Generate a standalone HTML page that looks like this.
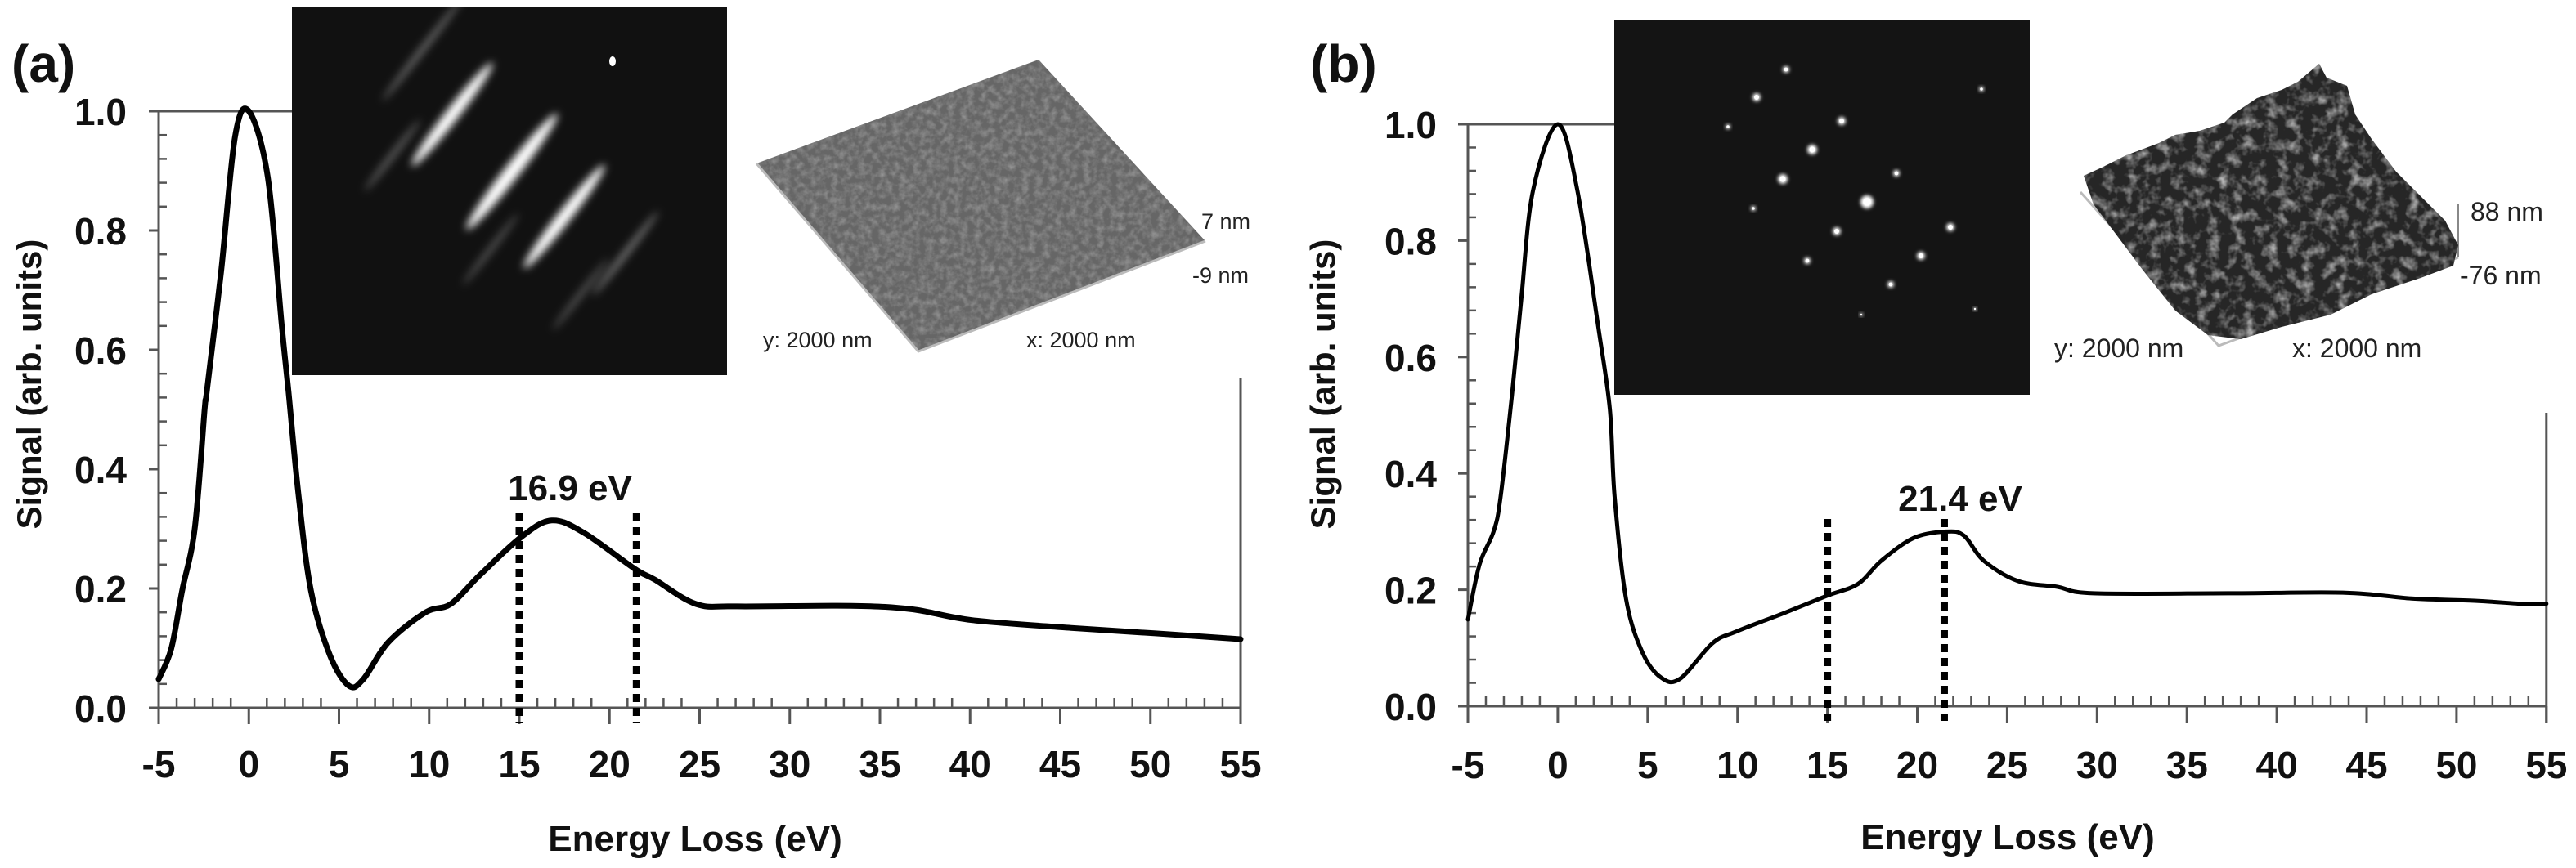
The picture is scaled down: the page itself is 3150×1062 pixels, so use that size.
<!DOCTYPE html>
<html><head><meta charset="utf-8"><style>
html,body{margin:0;padding:0;background:#fff;}
svg{display:block;}
text{font-family:"Liberation Sans",Arial,sans-serif;}
</style></head><body>
<svg id="fig" width="3150" height="1062" viewBox="0 0 3150 1062" xmlns="http://www.w3.org/2000/svg">
<defs>
<filter id="blur6" x="-50%" y="-50%" width="200%" height="200%"><feGaussianBlur stdDeviation="5"/></filter>
<filter id="blur2" x="-50%" y="-50%" width="200%" height="200%"><feGaussianBlur stdDeviation="2"/></filter>
<filter id="noiseA" x="0" y="0" width="100%" height="100%">
<feTurbulence type="fractalNoise" baseFrequency="0.12" numOctaves="3" seed="4"/>
<feColorMatrix type="matrix" values="0 0 0 0 0.32  0 0 0 0 0.32  0 0 0 0 0.32  0 0 0 -1.6 1.0"/>
</filter>
<filter id="noiseB" x="0" y="0" width="100%" height="100%">
<feTurbulence type="fractalNoise" baseFrequency="0.07" numOctaves="3" seed="9"/>
<feColorMatrix type="matrix" values="0 0 0 0 0.5  0 0 0 0 0.5  0 0 0 0 0.5  0 0 0 2.2 -1.0"/>
</filter>
<clipPath id="clipAfmA"><polygon points="925,200 1270,73 1474,295 1123,430"/></clipPath>
<clipPath id="clipAfmB"><polygon points="2548,215 2570,205 2600,190 2640,175 2660,165 2690,160 2720,150 2730,140 2760,120 2790,110 2810,100 2836,78 2845,95 2870,105 2880,140 2900,170 2930,210 2960,240 2990,270 3006,300 3000,325 2960,340 2900,360 2850,385 2790,400 2740,415 2700,410 2660,380 2620,330 2590,290 2560,250"/></clipPath>
</defs>
<rect width="3150" height="1062" fill="#fff"/>

<g>
<rect x="357" y="8" width="532" height="451" fill="#111"/>
<g filter="url(#blur6)" fill="#fff">
<ellipse cx="517" cy="60" rx="80" ry="4" transform="rotate(-52 517 60)" opacity="0.35"/>
<ellipse cx="553" cy="140" rx="80" ry="8" transform="rotate(-52 553 140)"/>
<ellipse cx="626" cy="210" rx="90" ry="9" transform="rotate(-52 626 210)"/>
<ellipse cx="690" cy="265" rx="80" ry="8" transform="rotate(-52 690 265)"/>
<ellipse cx="765" cy="310" rx="65" ry="4" transform="rotate(-52 765 310)" opacity="0.4"/>
<ellipse cx="480" cy="190" rx="55" ry="4" transform="rotate(-52 480 190)" opacity="0.3"/>
<ellipse cx="600" cy="305" rx="55" ry="4" transform="rotate(-52 600 305)" opacity="0.25"/>
<ellipse cx="710" cy="360" rx="55" ry="4" transform="rotate(-52 710 360)" opacity="0.25"/>
</g>
<ellipse cx="749" cy="75" rx="4" ry="6" fill="#fff"/>
</g>
<g>
<polygon points="925,200 1270,73 1474,295 1123,430" fill="#666"/>
<rect x="920" y="70" width="560" height="365" filter="url(#noiseA)" clip-path="url(#clipAfmA)"/>
<polyline points="925,200 1123,430 1474,295" fill="none" stroke="#bbb" stroke-width="3"/>
<text x="1469" y="280" font-size="27" fill="#222">7 nm</text>
<text x="1458" y="346" font-size="27" fill="#222">-9 nm</text>
<text x="933" y="425" font-size="27" fill="#222">y: 2000 nm</text>
<text x="1255" y="425" font-size="27" fill="#222">x: 2000 nm</text>
</g>

<g>
<rect x="1974" y="24" width="508" height="459" fill="#141414"/>
<g id="spotsB"></g>
</g>
<g>
<polyline points="2544,235 2713,423 3006,315" fill="none" stroke="#bbb" stroke-width="3"/>
<line x1="3006" y1="250" x2="3006" y2="315" stroke="#888" stroke-width="2"/>
<g clip-path="url(#clipAfmB)">
<rect x="2540" y="70" width="480" height="360" fill="#262626"/>
<rect x="2540" y="70" width="480" height="360" filter="url(#noiseB)"/>
</g>
<text x="3021" y="270" font-size="32" fill="#222">88 nm</text>
<text x="3008" y="348" font-size="32" fill="#222">-76 nm</text>
<text x="2512" y="437" font-size="32" fill="#222">y: 2000 nm</text>
<text x="2803" y="437" font-size="32" fill="#222">x: 2000 nm</text>
</g>

<g id="panelA"></g>
<g id="panelB"></g>
</svg>
<script>
// Panel (a) spectrum data
const xA = [-5,-4.3,-3.7,-3.0,-2.45,-2.33,-1.54,-0.76,0,1.05,1.83,2.2,2.76,3.45,4.5,5.55,6.35,7.74,9.8,11.2,12.8,15.1,16.8,18.6,21.4,22.5,24.8,27.1,33.4,36.8,40.1,45.6,50.2,55];
const yA = [0.048,0.099,0.196,0.30,0.50,0.53,0.73,0.958,1.0,0.89,0.64,0.53,0.356,0.196,0.088,0.037,0.048,0.11,0.16,0.174,0.222,0.286,0.314,0.293,0.233,0.215,0.174,0.17,0.171,0.165,0.147,0.134,0.125,0.115];
// Panel (b) spectrum data
const xB = [-5,-4.35,-3.57,-3.18,-2.55,-2.03,-1.38,0,1.09,2.26,2.9,3.16,3.8,4.7,5.75,6.8,8.6,9.9,12.5,15,16.7,18,19.8,21.6,22.6,23.7,25.6,27.8,29.8,37.3,43.8,47.5,51.1,53.6,55];
const yB = [0.149,0.244,0.30,0.36,0.535,0.70,0.886,1.0,0.886,0.65,0.51,0.36,0.184,0.093,0.049,0.047,0.108,0.128,0.159,0.19,0.21,0.25,0.289,0.30,0.293,0.25,0.215,0.205,0.194,0.194,0.195,0.185,0.181,0.176,0.176];
const markersA = [15, 21.5];
const markersB = [15, 21.5];
const peakLabelA = "16.9 eV";
const peakLabelB = "21.4 eV";
const xTicks = [-5,0,5,10,15,20,25,30,35,40,45,50,55];
const yTicks = [0.0,0.2,0.4,0.6,0.8,1.0];
const spotsBX = [2184,2148,2252,2113,2216,2180,2319,2144,2283,2385,2246,2349,2210,2312,2423,2276,2415];
const spotsBY = [85,119,148,155,183,219,212,255,247,278,283,313,319,348,109,385,378];
const spotsBR = [4,5,5,3,6,6,4,3,8,5,5,5,4,4,3,2,2];

const NS = "http://www.w3.org/2000/svg";
function mk(tag, attrs, parent){const e=document.createElementNS(NS,tag);for(const k in attrs)e.setAttribute(k,attrs[k]);parent.appendChild(e);return e;}

const sp = document.getElementById('spotsB');
spotsBX.forEach((x,i)=>{
  const c = mk('circle',{cx:x,cy:spotsBY[i],r:spotsBR[i],fill:'#fff',filter:'url(#blur2)'},sp);
  
  
  const c2 = mk('circle',{cx:x,cy:spotsBY[i],r:spotsBR[i]*0.6,fill:'#fff'},sp);
  
  
});

function smoothPath(pts){
  let d = 'M'+pts[0][0].toFixed(1)+','+pts[0][1].toFixed(1);
  for(let i=0;i<pts.length-1;i++){
    const p0=pts[Math.max(0,i-1)], p1=pts[i], p2=pts[i+1], p3=pts[Math.min(pts.length-1,i+2)];
    const c1=[p1[0]+(p2[0]-p0[0])/6, p1[1]+(p2[1]-p0[1])/6];
    const c2=[p2[0]-(p3[0]-p1[0])/6, p2[1]-(p3[1]-p1[1])/6];
    d += ' C'+c1[0].toFixed(1)+','+c1[1].toFixed(1)+' '+c2[0].toFixed(1)+','+c2[1].toFixed(1)+' '+p2[0].toFixed(1)+','+p2[1].toFixed(1);
  }
  return d;
}

function drawPanel(g, cfg){
  const sx = v => cfg.x0 + (v+5)*cfg.ux;
  const sy = v => cfg.y0 - v*cfg.uy;
  const ax = mk('g',{},g);
  
  
  const axc = '#555';
  mk('line',{x1:sx(-5),y1:sy(0),x2:sx(-5),y2:sy(1),stroke:axc,'stroke-width':3},ax);
  mk('line',{x1:sx(-5)-12,y1:sy(1),x2:cfg.topEnd,y2:sy(1),stroke:axc,'stroke-width':3},ax);
  mk('line',{x1:sx(-5)-12,y1:sy(0),x2:sx(55),y2:sy(0),stroke:axc,'stroke-width':3},ax);
  mk('line',{x1:sx(55),y1:cfg.rightTop,x2:sx(55),y2:sy(0)+20,stroke:axc,'stroke-width':3},ax);
  for(let v=-5; v<=55; v++){
    if((v+5)%5===0){mk('line',{x1:sx(v),y1:sy(0),x2:sx(v),y2:sy(0)+20,stroke:axc,'stroke-width':3},ax);}
    else {mk('line',{x1:sx(v),y1:sy(0),x2:sx(v),y2:sy(0)-12,stroke:axc,'stroke-width':2.5},ax);}
  }
  for(let k=1;k<25;k++){
    const v=k*0.04;
    if(k%5===0) mk('line',{x1:sx(-5)-12,y1:sy(v),x2:sx(-5),y2:sy(v),stroke:axc,'stroke-width':3},ax);
    else mk('line',{x1:sx(-5),y1:sy(v),x2:sx(-5)+10,y2:sy(v),stroke:axc,'stroke-width':2.5},ax);
  }
  xTicks.forEach(v=>{
    const t = mk('text',{x:sx(v),y:cfg.xLabelY,'font-size':46,'font-weight':'bold','text-anchor':'middle',fill:'#111'},g);
    t.textContent = String(v);
    
    
  });
  yTicks.forEach(v=>{
    const t = mk('text',{x:cfg.yLabelX,y:sy(v)+17,'font-size':46,'font-weight':'bold','text-anchor':'end',fill:'#111'},g);
    t.textContent = v.toFixed(1);
    
    
  });
  const yt = mk('text',{x:0,y:0,'font-size':42,'font-weight':'bold','text-anchor':'middle',fill:'#111',transform:`translate(${cfg.yTitleX},${cfg.yTitleY}) rotate(-90)`},g);
  yt.textContent='Signal (arb. units)';
  
  
  const xt = mk('text',{x:cfg.xTitleX,y:cfg.xTitleY,'font-size':44,'font-weight':'bold','text-anchor':'middle',fill:'#111'},g);
  xt.textContent='Energy Loss (eV)';
  
  
  const pl = mk('text',{x:cfg.tagX,y:100,'font-size':64,'font-weight':'bold',fill:'#111'},g);
  pl.setAttribute('font-family','"Liberation Serif", serif');
  pl.textContent=cfg.tag;
  
  
  const pts = cfg.xs.map((x,i)=>[sx(x), sy(cfg.ys[i])]);
  const p = mk('path',{d:smoothPath(pts),fill:'none',stroke:'#000','stroke-width':cfg.lw,'stroke-linejoin':'round','stroke-linecap':'round'},g);
  
  
  cfg.markers.forEach(m=>{
    const l = mk('line',{x1:sx(m),y1:cfg.markTop,x2:sx(m),y2:sy(0)+18,stroke:'#000','stroke-width':9,'stroke-dasharray':'10 7'},g);
    
    
  });
  const lb = mk('text',{x:cfg.peakX,y:cfg.peakY,'font-size':44,'font-weight':'bold','text-anchor':'middle',fill:'#111'},g);
  lb.textContent = cfg.peak;
  
  
}

drawPanel(document.getElementById('panelA'),{x0:194,ux:22.05,y0:866,uy:730,topEnd:357,rightTop:463,
  xLabelY:951,yLabelX:155,yTitleX:50,yTitleY:470,xTitleX:850,xTitleY:1041,tag:'(a)',tagX:14,
  xs:xA,ys:yA,lw:7,markers:markersA,markTop:628,peak:peakLabelA,peakX:697,peakY:612});
drawPanel(document.getElementById('panelB'),{x0:1795,ux:21.98,y0:864,uy:712,topEnd:1974,rightTop:505,
  xLabelY:952,yLabelX:1757,yTitleX:1632,yTitleY:470,xTitleX:2455,xTitleY:1039,tag:'(b)',tagX:1602,
  xs:xB,ys:yB,lw:5,markers:markersB,markTop:635,peak:peakLabelB,peakX:2397,peakY:625});
</script>
</body></html>
